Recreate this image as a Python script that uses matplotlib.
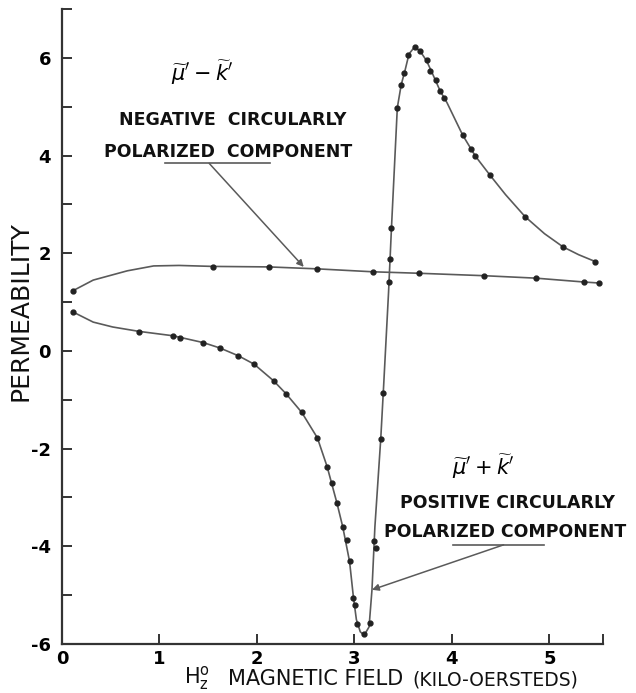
import matplotlib
matplotlib.use('Agg')
import matplotlib.pyplot as plt

# mu' - k'  (negative circularly polarized component)
neg_x = [0.11, 1.55, 2.12, 2.62, 3.19, 3.66, 4.33, 4.86, 5.36, 5.51]
neg_y = [1.23, 1.72, 1.72, 1.68, 1.62, 1.59, 1.54, 1.49, 1.41, 1.39]
# drawn curve
neg_line_x = [0.11, 0.32, 0.67, 0.94, 1.20, 1.55, 2.12, 2.62, 3.19, 3.66, 4.33, 4.86, 5.36, 5.51]
neg_line_y = [1.23, 1.45, 1.64, 1.74, 1.75, 1.73, 1.72, 1.68, 1.62, 1.59, 1.54, 1.49, 1.41, 1.39]

# mu' + k'  (positive circularly polarized component)
pos_x = [0.11, 0.79, 1.14, 1.21, 1.45, 1.62, 1.81, 1.97, 2.17, 2.30, 2.46, 2.62,
         2.72, 2.77, 2.82, 2.88, 2.92, 2.95, 2.99, 3.01, 3.03, 3.10, 3.16, 3.20,
         3.22, 3.27, 3.29, 3.35, 3.36, 3.38, 3.44, 3.48, 3.51, 3.55, 3.62, 3.67,
         3.74, 3.78, 3.84, 3.88, 3.92, 4.11, 4.20, 4.24, 4.39, 4.75, 5.14, 5.47]
pos_y = [0.80, 0.39, 0.31, 0.27, 0.17, 0.06, -0.10, -0.27, -0.61, -0.88, -1.26, -1.78,
         -2.37, -2.70, -3.11, -3.60, -3.87, -4.31, -5.05, -5.21, -5.60, -5.80, -5.58, -3.89,
         -4.03, -1.80, -0.86, 1.41, 1.89, 2.52, 4.98, 5.45, 5.68, 6.06, 6.23, 6.14,
         5.96, 5.73, 5.55, 5.32, 5.18, 4.42, 4.13, 3.99, 3.60, 2.75, 2.13, 1.83]
pos_line_x = [0.11, 0.32, 0.52, 0.79, 1.14, 1.45, 1.62, 1.81, 1.97, 2.17, 2.30, 2.46, 2.62,
              2.72, 2.82, 2.88, 2.95, 2.99, 3.02, 3.06, 3.10, 3.15, 3.18, 3.21, 3.27,
              3.30, 3.35, 3.38, 3.44, 3.48, 3.52, 3.56, 3.62, 3.68, 3.74, 3.80,
              3.88, 3.95, 4.11, 4.24, 4.39, 4.55, 4.75, 4.95, 5.14, 5.30, 5.47]
pos_line_y = [0.80, 0.59, 0.49, 0.40, 0.31, 0.17, 0.06, -0.10, -0.27, -0.61, -0.88, -1.26, -1.78,
              -2.37, -3.11, -3.60, -4.31, -5.05, -5.50, -5.75, -5.82, -5.65, -4.89, -3.60, -1.80,
              -0.70, 1.20, 2.52, 4.98, 5.45, 5.75, 6.08, 6.23, 6.12, 5.94, 5.68,
              5.32, 5.08, 4.42, 3.99, 3.60, 3.20, 2.75, 2.40, 2.13, 1.97, 1.83]

yticks = [-6, -4, -2, 0, 2, 4, 6]
xticks = [0, 1, 2, 3, 4, 5]

W, H = 636, 693
fig = plt.figure(figsize=(W / 100, H / 100), dpi=100)
ax = fig.add_axes([62 / W, 49 / H, (603 - 62) / W, (644 - 9) / H])

line_col = '#5a5a5a'
ax.plot(neg_line_x, neg_line_y, color=line_col, lw=1.2)
ax.plot(pos_line_x, pos_line_y, color=line_col, lw=1.2)
ax.plot(neg_x, neg_y, 'o', color='#222222', ms=3.5)
ax.plot(pos_x, pos_y, 'o', color='#222222', ms=3.5)

ax.set_xlim(0, 5.55)
ax.set_ylim(-6, 7)
for s in ['top', 'right']:
    ax.spines[s].set_visible(False)
for s in ['left', 'bottom']:
    ax.spines[s].set_linewidth(1.6)
    ax.spines[s].set_color('#333333')

ax.set_xticks(xticks + [5.55])
ax.set_xticklabels([str(t) for t in xticks] + [''])
ax.set_yticks(yticks)
ax.set_yticklabels([str(t) for t in yticks])
ax.set_yticks([-5, -3, -1, 1, 3, 5, 7], minor=True)
ax.tick_params(direction='in', length=7, width=1.4, color='#333333',
               labelsize=13, pad=8)
ax.tick_params(which='minor', direction='in', length=7, width=1.4, color='#333333')
for lab in ax.get_xticklabels() + ax.get_yticklabels():
    lab.set_fontweight('bold')
ax.tick_params(axis='x', pad=4)

# labels for the curves
tkw = dict(fontsize=12.5, fontweight='bold', ha='center', va='center', color='#111111')
ax.text(1.44, 5.69, r"$\widetilde{\mu}'-\widetilde{k}'$", fontsize=15, ha='center', va='center')
ax.text(1.75, 4.72, 'NEGATIVE  CIRCULARLY', **tkw)
ax.text(1.70, 4.07, 'POLARIZED  COMPONENT', **tkw)
ax.plot([1.06, 2.13], [3.84, 3.84], color=line_col, lw=1.2)
ax.annotate('', xy=(2.48, 1.72), xytext=(1.51, 3.84),
            arrowprops=dict(arrowstyle='-|>', color=line_col, lw=1.1,
                            mutation_scale=10, shrinkA=0, shrinkB=0))

ax.text(4.32, -2.37, r"$\widetilde{\mu}'+\widetilde{k}'$", fontsize=15, ha='center', va='center')
ax.text(4.57, -3.12, 'POSITIVE CIRCULARLY', **tkw)
ax.text(4.55, -3.71, 'POLARIZED COMPONENT', **tkw)
ax.plot([4.01, 4.94], [-3.97, -3.97], color=line_col, lw=1.2)
ax.annotate('', xy=(3.18, -4.89), xytext=(4.53, -3.97),
            arrowprops=dict(arrowstyle='-|>', color=line_col, lw=1.1,
                            mutation_scale=10, shrinkA=0, shrinkB=0))

# axis titles
fig.text(21 / W, 1 - 311 / H, 'PERMEABILITY', rotation=90, fontsize=18,
         ha='center', va='center', color='#111111')
fig.text(184 / W, 1 - 683 / H, r'$\mathregular{H_z^o}$', fontsize=15,
         ha='left', va='baseline', color='#111111')
fig.text(228 / W, 1 - 685 / H, 'MAGNETIC FIELD', fontsize=15,
         ha='left', va='baseline', color='#111111')
fig.text(412 / W, 1 - 685 / H, '(KILO-OERSTEDS)', fontsize=13.5,
         ha='left', va='baseline', color='#111111')

fig.savefig('out.png', dpi=100)
